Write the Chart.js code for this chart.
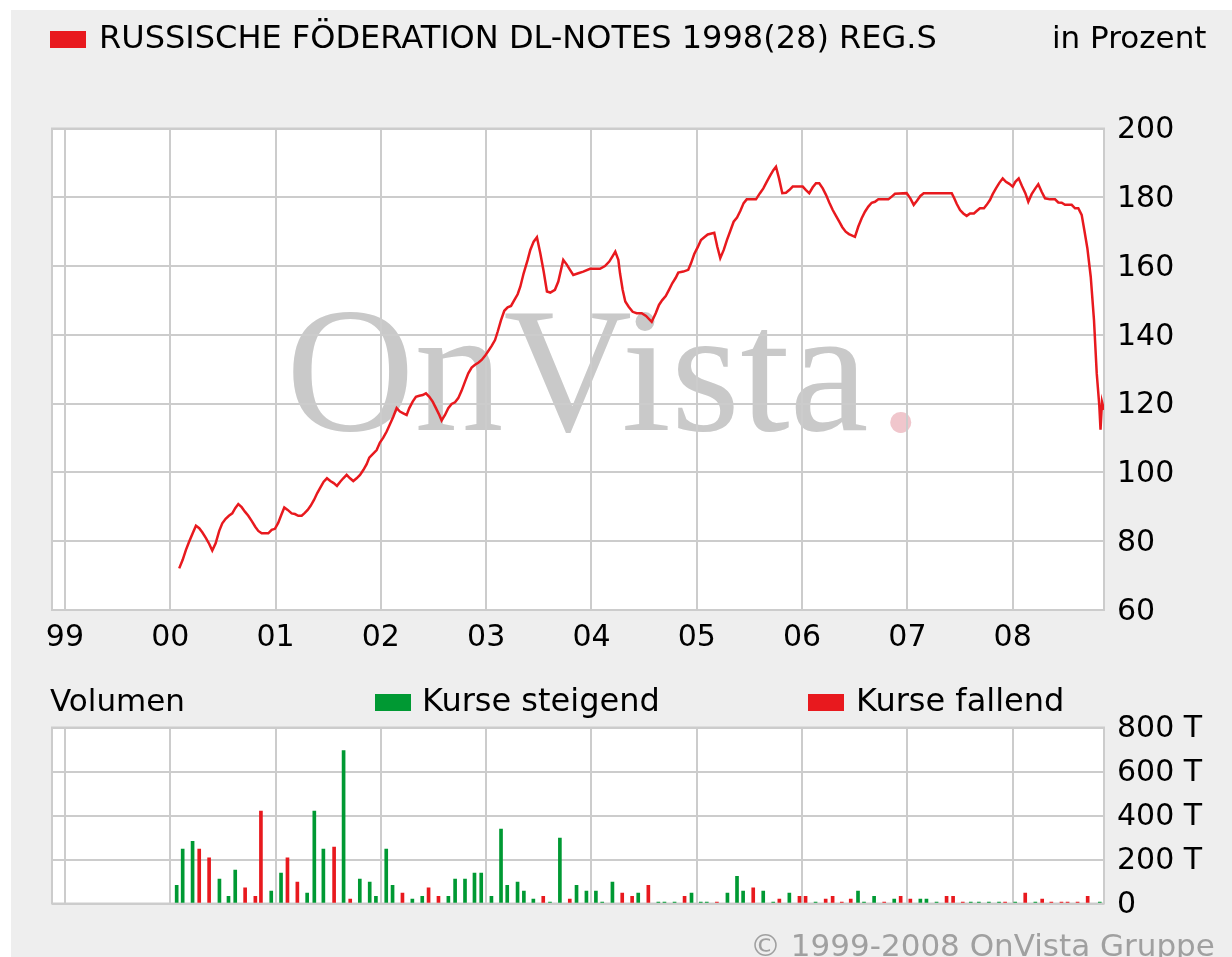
<!DOCTYPE html>
<html>
<head>
<meta charset="utf-8">
<script src="https://cdn.jsdelivr.net/npm/chart.js@4.4.1/dist/chart.umd.min.js"></script>
<style>
  html, body { margin:0; padding:0; background:#fff; width:1232px; height:957px; overflow:hidden; }
  #page { position:absolute; left:11px; top:10px; width:1221px; height:947px; background:#eeeeee; }
  canvas { position:absolute; left:0; top:0; }
  .t { position:absolute; font-family:'DejaVu Sans', Verdana, sans-serif; line-height:1; white-space:nowrap; color:#000; }
  .sq { position:absolute; width:36px; height:17px; }
</style>
</head>
<body>
<div id="page"></div>
<canvas id="chartKurs" width="1232" height="957"></canvas>
<canvas id="chartVol" width="1232" height="957"></canvas>

<div class="sq" style="left:50px;top:31px;background:#e8191e"></div>
<div class="t" style="left:99px;top:21px;font-size:32px">RUSSISCHE FÖDERATION DL-NOTES 1998(28) REG.S</div>
<div class="t" style="left:1052px;top:22px;font-size:31px">in Prozent</div>

<div class="t" style="left:50px;top:685px;font-size:31px">Volumen</div>
<div class="sq" style="left:375px;top:694px;background:#009933"></div>
<div class="t" style="left:422px;top:684px;font-size:32px">Kurse steigend</div>
<div class="sq" style="left:808px;top:694px;background:#e8191e"></div>
<div class="t" style="left:856px;top:684px;font-size:32px">Kurse fallend</div>

<div class="t" style="left:750px;top:930px;font-size:31px;color:#a0a0a0">© 1999-2008 OnVista Gruppe</div>

<script>
// ===== Daten (Zeit in Dezimaljahren) =====
const priceDates = [
  2000.085, 2000.118, 2000.149, 2000.180, 2000.213, 2000.244, 2000.275, 2000.304, 2000.339, 2000.370,
  2000.399, 2000.431, 2000.465, 2000.494, 2000.526, 2000.557, 2000.589, 2000.617, 2000.646, 2000.678,
  2000.709, 2000.741, 2000.773, 2000.807, 2000.836, 2000.868, 2000.931, 2000.963, 2000.994, 2001.026,
  2001.054, 2001.083, 2001.115, 2001.153, 2001.184, 2001.216, 2001.248, 2001.273, 2001.305, 2001.333,
  2001.365, 2001.396, 2001.425, 2001.457, 2001.488, 2001.520, 2001.552, 2001.583, 2001.614, 2001.643,
  2001.675, 2001.707, 2001.738, 2001.770, 2001.802, 2001.833, 2001.865, 2001.890, 2001.925, 2001.960,
  2001.991, 2002.023, 2002.055, 2002.086, 2002.118, 2002.150, 2002.181, 2002.213, 2002.245, 2002.270,
  2002.302, 2002.333, 2002.365, 2002.397, 2002.428, 2002.460, 2002.492, 2002.523, 2002.555, 2002.577,
  2002.609, 2002.640, 2002.672, 2002.704, 2002.735, 2002.767, 2002.799, 2002.830, 2002.862, 2002.894,
  2002.925, 2002.957, 2002.989, 2003.020, 2003.052, 2003.084, 2003.109, 2003.141, 2003.172, 2003.204,
  2003.236, 2003.267, 2003.299, 2003.324, 2003.356, 2003.394, 2003.419, 2003.451, 2003.482, 2003.514,
  2003.546, 2003.577, 2003.609, 2003.653, 2003.685, 2003.732, 2003.764, 2003.796, 2003.827, 2003.875,
  2003.922, 2003.986, 2004.081, 2004.128, 2004.169, 2004.201, 2004.226, 2004.255, 2004.271, 2004.296,
  2004.321, 2004.353, 2004.391, 2004.429, 2004.477, 2004.518, 2004.572, 2004.610, 2004.641, 2004.672,
  2004.705, 2004.736, 2004.767, 2004.800, 2004.824, 2004.872, 2004.919, 2004.945, 2004.976, 2005.009,
  2005.040, 2005.071, 2005.104, 2005.166, 2005.195, 2005.223, 2005.256, 2005.287, 2005.318, 2005.350,
  2005.382, 2005.413, 2005.445, 2005.474, 2005.562, 2005.600, 2005.632, 2005.664, 2005.695, 2005.727,
  2005.752, 2005.781, 2005.812, 2005.847, 2005.878, 2005.911, 2006.006, 2006.037, 2006.068, 2006.101,
  2006.132, 2006.163, 2006.196, 2006.227, 2006.258, 2006.291, 2006.322, 2006.353, 2006.382, 2006.414,
  2006.445, 2006.502, 2006.534, 2006.566, 2006.597, 2006.629, 2006.661, 2006.692, 2006.724, 2006.819,
  2006.851, 2006.882, 2006.993, 2007.028, 2007.060, 2007.091, 2007.123, 2007.155, 2007.421, 2007.445,
  2007.468, 2007.500, 2007.531, 2007.563, 2007.595, 2007.632, 2007.658, 2007.689, 2007.727, 2007.753,
  2007.784, 2007.810, 2007.841, 2007.873, 2007.905, 2007.936, 2007.968, 2008.000, 2008.025, 2008.057,
  2008.088, 2008.120, 2008.148, 2008.180, 2008.215, 2008.243, 2008.275, 2008.307, 2008.354, 2008.402,
  2008.433, 2008.465, 2008.497, 2008.560, 2008.592, 2008.623, 2008.655, 2008.680, 2008.709, 2008.741,
  2008.772, 2008.798, 2008.822, 2008.834, 2008.848, 2008.867
];
const priceValues = [
  72.1, 74.6, 77.5, 79.9, 82.3, 84.5, 83.8, 82.6, 80.9, 79.2,
  77.3, 79.4, 83.0, 85.2, 86.5, 87.4, 88.1, 89.6, 90.8, 89.9,
  88.6, 87.4, 85.9, 84.2, 83.0, 82.3, 82.3, 83.3, 83.6, 85.4,
  87.6, 89.8, 89.1, 88.1, 87.9, 87.4, 87.4, 88.1, 89.1, 90.3,
  92.0, 94.0, 95.6, 97.3, 98.3, 97.5, 96.9, 96.1, 97.3, 98.3,
  99.3, 98.3, 97.5, 98.3, 99.3, 100.7, 102.4, 104.3, 105.4, 106.5,
  108.7, 110.1, 111.9, 114.0, 116.2, 118.7, 117.7, 117.2, 116.7, 118.7,
  120.6, 122.0, 122.3, 122.5, 123.0, 122.0, 120.6, 118.7, 116.7, 115.1,
  116.7, 118.7, 119.9, 120.4, 121.6, 123.8, 126.4, 128.8, 130.5, 131.3,
  131.9, 132.7, 133.9, 135.3, 136.8, 138.5, 140.9, 144.3, 147.0, 148.0,
  148.4, 150.1, 151.8, 154.0, 157.9, 161.8, 164.7, 167.1, 168.4, 163.7,
  158.4, 152.6, 152.3, 153.1, 155.5, 161.8, 160.5, 158.9, 157.4, 157.9,
  158.4, 159.2, 159.2, 160.0, 161.3, 162.9, 164.2, 161.8, 157.9, 153.1,
  149.7, 148.2, 146.7, 146.3, 146.3, 145.5, 143.8, 146.3, 148.7, 150.1,
  151.3, 153.1, 155.0, 156.6, 158.1, 158.4, 158.9, 160.8, 163.5, 165.5,
  167.6, 168.4, 169.2, 169.7, 165.6, 162.3, 164.7, 167.6, 170.2, 172.9,
  174.1, 176.0, 178.3, 179.4, 179.4, 181.2, 182.6, 184.5, 186.2, 187.9,
  188.9, 185.5, 181.2, 181.3, 182.1, 183.1, 183.1, 182.1, 181.2, 182.9,
  184.1, 184.1, 182.6, 180.7, 178.5, 176.3, 174.6, 172.9, 171.3, 170.0,
  169.3, 168.5, 171.5, 173.9, 175.8, 177.3, 178.4, 178.7, 179.4, 179.4,
  180.2, 181.0, 181.2, 179.7, 177.8, 179.0, 180.4, 181.2, 181.2, 179.7,
  178.1, 176.3, 175.3, 174.6, 175.3, 175.3, 176.0, 176.8, 176.8, 177.8,
  179.2, 180.9, 182.6, 184.2, 185.5, 184.5, 183.9, 183.1, 184.5, 185.5,
  183.3, 181.2, 178.7, 180.9, 182.6, 183.8, 181.6, 179.7, 179.4, 179.4,
  178.5, 178.4, 177.8, 177.8, 176.8, 176.8, 174.9, 170.5, 165.2, 156.9,
  144.3, 128.8, 119.6, 112.4, 120.5, 118.2
];

// Volumen in Tausend (T), Richtung: u = steigend, d = fallend
const volDates = [
  2000.061, 2000.118, 2000.212, 2000.275, 2000.369, 2000.467, 2000.553, 2000.617, 2000.711, 2000.808,
  2000.861, 2000.959, 2001.052, 2001.113, 2001.207, 2001.300, 2001.368, 2001.454, 2001.556, 2001.646,
  2001.709, 2001.800, 2001.894, 2001.953, 2002.051, 2002.111, 2002.205, 2002.299, 2002.393, 2002.453,
  2002.547, 2002.641, 2002.705, 2002.799, 2002.889, 2002.953, 2003.050, 2003.141, 2003.200, 2003.298,
  2003.358, 2003.448, 2003.542, 2003.606, 2003.700, 2003.794, 2003.858, 2003.952, 2004.042, 2004.102,
  2004.199, 2004.292, 2004.386, 2004.444, 2004.540, 2004.635, 2004.693, 2004.789, 2004.884, 2004.950,
  2005.038, 2005.095, 2005.191, 2005.291, 2005.382, 2005.440, 2005.536, 2005.631, 2005.726, 2005.784,
  2005.879, 2005.975, 2006.033, 2006.128, 2006.224, 2006.290, 2006.377, 2006.462, 2006.531, 2006.588,
  2006.684, 2006.780, 2006.875, 2006.936, 2007.028, 2007.123, 2007.181, 2007.277, 2007.372, 2007.434,
  2007.526, 2007.602, 2007.679, 2007.774, 2007.870, 2007.928, 2008.024, 2008.119, 2008.215, 2008.280,
  2008.367, 2008.463, 2008.521, 2008.616, 2008.712, 2008.827
];
const volValues = [
  83, 247, 283, 247, 208, 111, 33, 152, 71, 33,
  420, 56, 138, 208, 97, 47, 420, 247, 256, 695,
  20, 111, 97, 33, 247, 83, 47, 20, 33, 71,
  33, 33, 111, 111, 138, 138, 33, 338, 83, 97,
  56, 20, 33, 6, 297, 20, 83, 56, 56, 6,
  97, 47, 33, 47, 83, 6, 6, 6, 33, 47,
  6, 6, 6, 47, 124, 56, 71, 56, 6, 20,
  47, 33, 33, 6, 20, 33, 6, 20, 56, 6,
  33, 6, 20, 33, 20, 20, 20, 6, 33, 33,
  6, 6, 6, 6, 6, 6, 6, 47, 6, 20,
  6, 6, 6, 6, 33, 6
];
const volDir = [
  'u','u','u','d','d','u','u','u','d','d',
  'd','u','u','d','d','u','u','u','d','u',
  'd','u','u','u','u','u','d','u','u','d',
  'd','u','u','u','u','u','u','u','u','u',
  'u','u','d','u','u','d','u','u','u','u',
  'u','d','d','u','d','u','u','u','d','u',
  'u','u','d','u','u','u','d','u','u','d',
  'u','d','d','u','d','d','d','d','u','u',
  'u','d','u','d','d','u','u','u','d','d',
  'd','u','u','u','u','d','u','d','u','d',
  'd','d','d','d','d','u'
];

// Achsenbeschriftungen
const xTickYears  = [1999, 2000, 2001, 2002, 2003, 2004, 2005, 2006, 2007, 2008];
const xTickLabels = ['99', '00', '01', '02', '03', '04', '05', '06', '07', '08'];
const priceTicks  = [60, 80, 100, 120, 140, 160, 180, 200];
const volTicks    = [0, 200, 400, 600, 800];
const volTickLabels = ['0', '200 T', '400 T', '600 T', '800 T'];

const X_MIN = 1998.877, X_MAX = 2008.867;
const RED = '#e8191e', GREEN = '#009933', GRID = '#cccccc';
const tickFont = { family: "'DejaVu Sans', Verdana, sans-serif", size: 30 };

// weisser Plotbereich + Rahmen
const plotBg = {
  id: 'plotBg',
  beforeDraw(chart) {
    const { ctx, chartArea: a } = chart;
    ctx.save();
    ctx.fillStyle = '#ffffff';
    ctx.fillRect(a.left, a.top, a.right - a.left, a.bottom - a.top);
    ctx.restore();
  },
  beforeDatasetsDraw(chart) {
    const { ctx, chartArea: a } = chart;
    ctx.save();
    ctx.strokeStyle = GRID;
    ctx.lineWidth = 2;
    ctx.strokeRect(a.left, a.top, a.right - a.left, a.bottom - a.top);
    ctx.restore();
  }
};

// Wasserzeichen
const watermark = {
  id: 'watermark',
  beforeDraw(chart) {
    const { ctx } = chart;
    ctx.save();
    ctx.font = '178px "Liberation Serif", "DejaVu Serif", serif';
    ctx.textBaseline = 'alphabetic';
    ctx.fillStyle = '#c9c9c9';
    ctx.fillText('OnVista', 286, 430);
    const w = ctx.measureText('OnVista').width;
    ctx.fillStyle = '#f0c6cc';
    ctx.fillText('.', 286 + w + 10, 430);
    ctx.restore();
  }
};

const xScale = (showLabels) => ({
  type: 'linear',
  min: X_MIN, max: X_MAX,
  offset: false,
  afterBuildTicks: s => { s.ticks = xTickYears.map(v => ({ value: v })); },
  ticks: {
    display: showLabels,
    font: tickFont, color: '#000', padding: 10,
    maxRotation: 0, autoSkip: false,
    callback: v => xTickLabels[xTickYears.indexOf(v)]
  },
  grid: { color: GRID, lineWidth: 2, drawTicks: false, offset: false },
  border: { display: false },
  afterFit: s => { s.height = showLabels ? 60 : 0; }
});

new Chart(document.getElementById('chartKurs'), {
  type: 'line',
  data: {
    datasets: [{
      data: priceDates.map((x, i) => ({ x, y: priceValues[i] })),
      borderColor: RED, borderWidth: 2.5,
      pointRadius: 0, tension: 0, fill: false
    }]
  },
  options: {
    responsive: false, animation: false,
    layout: { padding: { left: 52, top: 128.5, right: 0, bottom: 287 } },
    plugins: { legend: { display: false }, tooltip: { enabled: false } },
    scales: {
      x: xScale(true),
      y: {
        position: 'right', min: 60, max: 200,
        afterBuildTicks: s => { s.ticks = priceTicks.map(v => ({ value: v })); },
        ticks: { font: tickFont, color: '#000', padding: 13, labelOffset: 2 },
        grid: { color: GRID, lineWidth: 2, drawTicks: false },
        border: { display: false },
        afterFit: s => { s.width = 128; }
      }
    }
  },
  plugins: [plotBg, watermark]
});

new Chart(document.getElementById('chartVol'), {
  type: 'bar',
  data: {
    datasets: [{
      data: volDates.map((x, i) => ({ x, y: volValues[i] })),
      backgroundColor: volDir.map(d => d === 'u' ? GREEN : RED),
      barThickness: 3, borderWidth: 0
    }]
  },
  options: {
    responsive: false, animation: false,
    layout: { padding: { left: 52, top: 727.5, right: 0, bottom: 53.5 } },
    plugins: { legend: { display: false }, tooltip: { enabled: false } },
    scales: {
      x: xScale(false),
      y: {
        position: 'right', min: 0, max: 800,
        afterBuildTicks: s => { s.ticks = volTicks.map(v => ({ value: v })); },
        ticks: {
          font: tickFont, color: '#000', padding: 13, labelOffset: 2,
          callback: v => volTickLabels[volTicks.indexOf(v)]
        },
        grid: { color: GRID, lineWidth: 2, drawTicks: false },
        border: { display: false },
        afterFit: s => { s.width = 128; }
      }
    }
  },
  plugins: [plotBg]
});
</script>
</body>
</html>
